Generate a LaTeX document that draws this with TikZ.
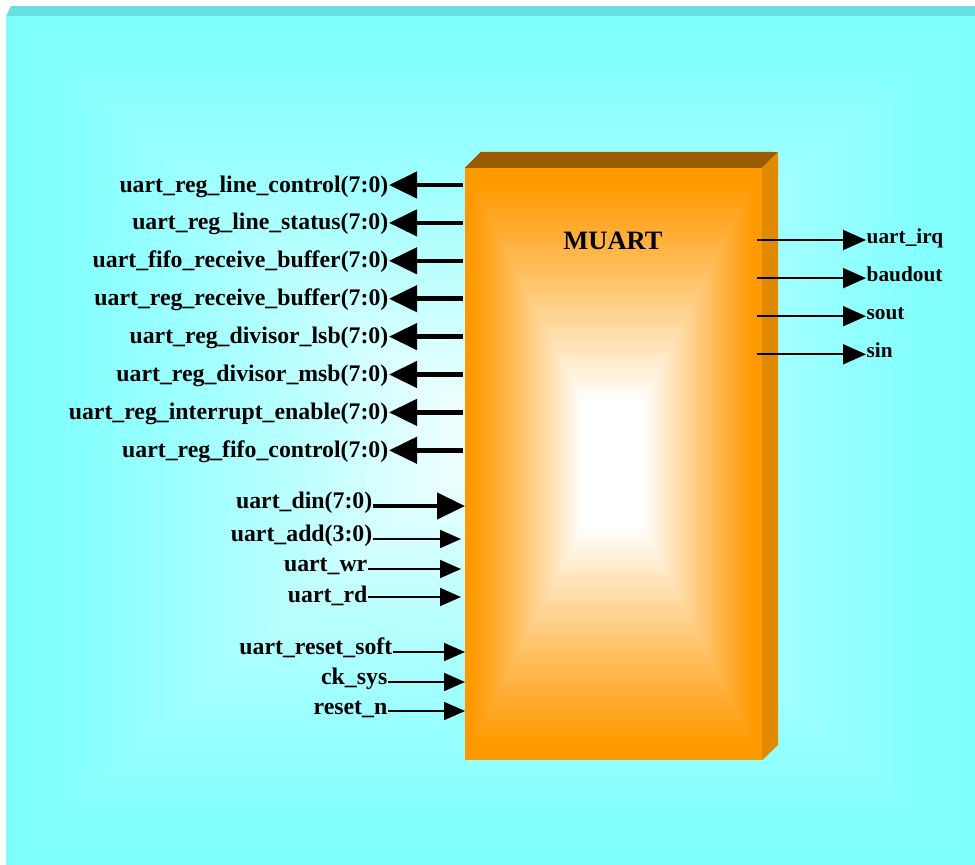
\documentclass[tikz,border=0pt]{standalone}
\usepackage{xcolor}
\usepackage{fontspec}
\setmainfont{Liberation Serif}
\usepackage{tikz}
\usetikzlibrary{arrows.meta,positioning,calc}

\definecolor{bgcyan}{RGB}{128,255,255}
\definecolor{bgbevel}{RGB}{102,224,224}
\definecolor{boxfront}{RGB}{255,153,0}
\definecolor{boxtop}{RGB}{153,92,0}
\definecolor{boxside}{RGB}{224,138,0}

\begin{document}
\begin{tikzpicture}[x=1pt, y=-1pt,
  lbl/.style={font=\bfseries\fontsize{23.8}{26}\selectfont, inner sep=0.5pt},
  rlbl/.style={font=\bfseries\fontsize{21.3}{24}\selectfont, inner sep=0.5pt},
  bus/.style={line width=4.5pt, -{Triangle[length=28pt,width=26pt]}},
  sig/.style={line width=2pt, -{Triangle[length=21pt,width=18pt]}},
  rsig/.style={line width=2pt, -{Triangle[length=23pt,width=20pt]}}]
\useasboundingbox (0,0) rectangle (975,865);
% backdrop
\fill[bgbevel] (6,16) -- (11,6) -- (975,6) -- (975,16) -- cycle;
\node[fill=bgcyan, minimum width=969pt, minimum height=849pt, inner sep=0pt] (back) at (490.5,440.5) {};
\foreach \k in {1,...,45}{
  \pgfmathsetmacro\dx{484.5*(1-\k/50)}
  \pgfmathsetmacro\dy{424.5*(1-\k/50)}
  \pgfmathtruncatemacro\pc{100*(\k/50)^1.4}
  \fill[white!\pc!bgcyan] ($(back.center)+(-\dx,-\dy)$) rectangle ($(back.center)+(\dx,\dy)$);
}
% block
\node[fill=boxfront, minimum width=297pt, minimum height=592pt, inner sep=0pt] (muart) at (613.5,464) {};
\foreach \k in {1,...,48}{
  \pgfmathsetmacro\dx{148.5*(1-\k/50)}
  \pgfmathsetmacro\dy{296*(1-\k/50)}
  \pgfmathsetmacro\s{max(0.001,min(1,(\k/50-0.03)/0.75))}
  \pgfmathtruncatemacro\pc{100*(\s)^1.1}
  \fill[white!\pc!boxfront] ($(muart.center)+(-\dx,-\dy)$) rectangle ($(muart.center)+(\dx,\dy)$);
}
\fill[boxtop] (muart.north west) -- ++(16,-16) -- (778,152) -- (muart.north east) -- cycle;
\fill[boxside] (muart.north east) -- (778,152) -- (778,745) -- (muart.south east) -- cycle;
\node[font=\bfseries\fontsize{26.5}{30}\selectfont, anchor=base] (title) at (613,249) {MUART};
% register outputs
\foreach \txt [count=\i from 0] in {uart\_reg\_line\_control(7:0), uart\_reg\_line\_status(7:0), uart\_fifo\_receive\_buffer(7:0), uart\_reg\_receive\_buffer(7:0), uart\_reg\_divisor\_lsb(7:0), uart\_reg\_divisor\_msb(7:0), uart\_reg\_interrupt\_enable(7:0), uart\_reg\_fifo\_control(7:0)}{
  \coordinate (src\i) at (463,185+37.9*\i);
  \node[lbl, anchor=base east] (out\i) at (389,192+37.9*\i) {\txt};
  \draw[bus] (src\i) -- (src\i -| out\i.east);
}
% inputs
\coordinate (dinp) at (465,506);
\node[lbl, anchor=base east] (din) at (373,508) {uart\_din(7:0)};
\draw[bus] (din.east |- dinp) -- (dinp);
\foreach \txt/\ty/\tb/\tx/\px [count=\i] in {uart\_add(3:0)/539/541/373/461, uart\_wr/569/571/368/461, uart\_rd/597/602/368/461, uart\_reset\_soft/652/654/393/465, ck\_sys/682/684/388/465, reset\_n/711/714/388/465}{
  \coordinate (dst\i) at (\px,\ty);
  \node[lbl, anchor=base east] (in\i) at (\tx,\tb) {\txt};
  \draw[sig] (in\i.east |- dst\i) -- (dst\i);
}
% serial side
\foreach \txt [count=\i from 0] in {uart\_irq, baudout, sout, sin}{
  \coordinate (drv\i) at (757,240+38.1*\i);
  \node[rlbl, anchor=base west] (res\i) at (866,243+38.1*\i) {\txt};
  \draw[rsig] (drv\i) -- (drv\i -| res\i.west);
}
\end{tikzpicture}
\end{document}
